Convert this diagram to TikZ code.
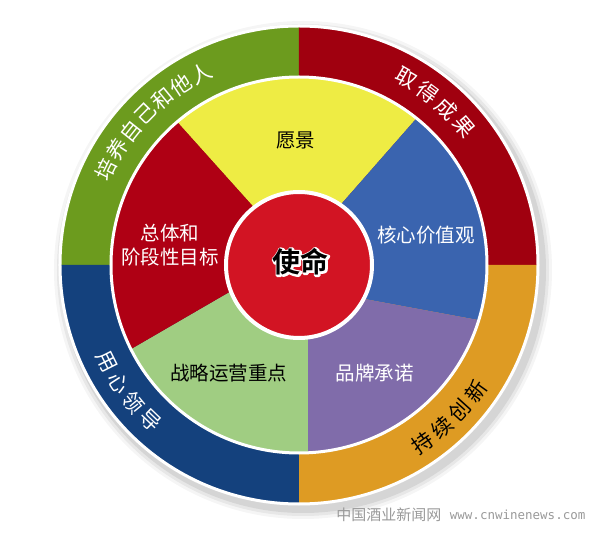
\documentclass[tikz,border=0pt]{standalone}
\usepackage{fontspec}
\usepackage{xcolor}
\usetikzlibrary{positioning}
\setmainfont{Noto Sans CJK SC}
\newfontfamily\cjkbold{Noto Sans CJK SC Bold}
\setmonofont{DejaVu Sans Mono}

\definecolor{ringgreen}{RGB}{108,155,30}
\definecolor{ringred}{RGB}{160,0,15}
\definecolor{ringorange}{RGB}{222,155,35}
\definecolor{ringblue}{RGB}{20,65,125}
\definecolor{segyellow}{RGB}{238,236,68}
\definecolor{segblue}{RGB}{58,100,175}
\definecolor{segpurple}{RGB}{128,108,170}
\definecolor{seggreen}{RGB}{160,205,130}
\definecolor{segred}{RGB}{175,0,20}
\definecolor{centerred}{RGB}{210,20,35}

\newcommand{\haloed}[1]{\rlap{\special{pdf:literal direct 1 1 1 RG 3.6 w 1 j 1 Tr}#1\special{pdf:literal direct 0 Tr}}#1}

\tikzset{
  ringtext/.style={font=\fontsize{21}{21}\selectfont, inner sep=0pt},
  segtext/.style={font=\fontsize{19.5}{24}\selectfont, inner sep=0pt, align=center},
  marktext/.style={font=\fontsize{28}{28}\selectfont\cjkbold, inner sep=0pt}
}

\begin{document}
\begin{tikzpicture}[x=1pt,y=1pt]
        \useasboundingbox (-299,-270) rectangle (301,265);

        % Shadow
        \foreach \r/\o in {249/0.04,246/0.06,243/0.08}
            \fill[black, opacity=\o] (4,-5) circle (\r);

        % Outer ring
        \fill[ringgreen] (0,0) -- (90:239) arc (90:180:239) -- cycle;
        \fill[ringred] (0,0) -- (0:239) arc (0:90:239) -- cycle;
        \fill[ringorange] (0,0) -- (-90:239) arc (-90:0:239) -- cycle;
        \fill[ringblue] (0,0) -- (180:239) arc (180:270:239) -- cycle;
        \draw[white, line width=3pt] (0,0) circle (239);

        % Segments
        \begin{scope}
            \clip (0,0) circle (188);
            \fill[segyellow] (0,0) -- (-14,23) -- (-189,218) -- (90:320) -- (188,227) -- (8,22) -- cycle;
            \fill[segblue] (0,0) -- (8,22) -- (188,227) -- (20:320) -- (287,-75) -- (17,-25) -- cycle;
            \fill[segpurple] (0,0) -- (17,-25) -- (287,-75) -- (300:320) -- (9,-255) -- (9,-20) -- cycle;
            \fill[seggreen] (0,0) -- (9,-20) -- (9,-255) -- (240:320) -- (-261,-138) -- (-23,0) -- cycle;
            \fill[segred] (0,0) -- (-23,0) -- (-261,-138) -- (170:320) -- (-189,218) -- (-14,23) -- cycle;
        \end{scope}
        \draw[white, line width=3pt] (0,0) circle (188);

        % Center
        \node[circle, fill=centerred, draw=white, line width=4pt, minimum size=146pt] (mission) at (0,0) {};
        \node[marktext, black] (missiontext) at (2,3) {\haloed{使命}};

        % Segment labels
        \node[segtext] (vision) at (-3,125) {愿景};
        \node[segtext, white] (values) at (127,30) {核心价值观};
        \node[segtext, white] (goals) at (-129,20) {总体和\\阶段性目标};
        \node[segtext] (strategy) at (-70,-108) {战略运营重点};
        \node[segtext, white] (brand) at (76,-108) {品牌承诺};

        % Ring labels
        \foreach \ch [count=\i] in {培,养,自,己,和,他,人} {
            \pgfmathsetmacro\a{135.4+3*6.1-(\i-1)*6.1}
            \node[ringtext, white, rotate=\a-90] at (\a:215) {\ch};
        }
        \foreach \ch [count=\i] in {取,得,成,果} {
            \pgfmathsetmacro\a{50+1.5*6.7-(\i-1)*6.7}
            \node[ringtext, white, rotate=\a-90] at (\a:215) {\ch};
        }
        \foreach \ch [count=\i] in {用,心,领,导} {
            \pgfmathsetmacro\a{216.4-1.5*6.5+(\i-1)*6.5}
            \node[ringtext, white, rotate=\a+90] at (\a:215) {\ch};
        }
        \foreach \ch [count=\i] in {持,续,创,新} {
            \pgfmathsetmacro\a{-45.4-1.5*6.6+(\i-1)*6.6}
            \node[ringtext, black, rotate=\a+90] at (\a:217) {\ch};
        }

        % Watermark
        \node[font=\fontsize{15}{15}\selectfont, text=black!40, inner sep=0pt] (site) at (90,-250) {中国酒业新闻网};
        \node[font=\fontsize{12.5}{12.5}\ttfamily, text=black!40, inner sep=0pt, right=8pt of site] (url) {www.cnwinenews.com};
\end{tikzpicture}
\end{document}
